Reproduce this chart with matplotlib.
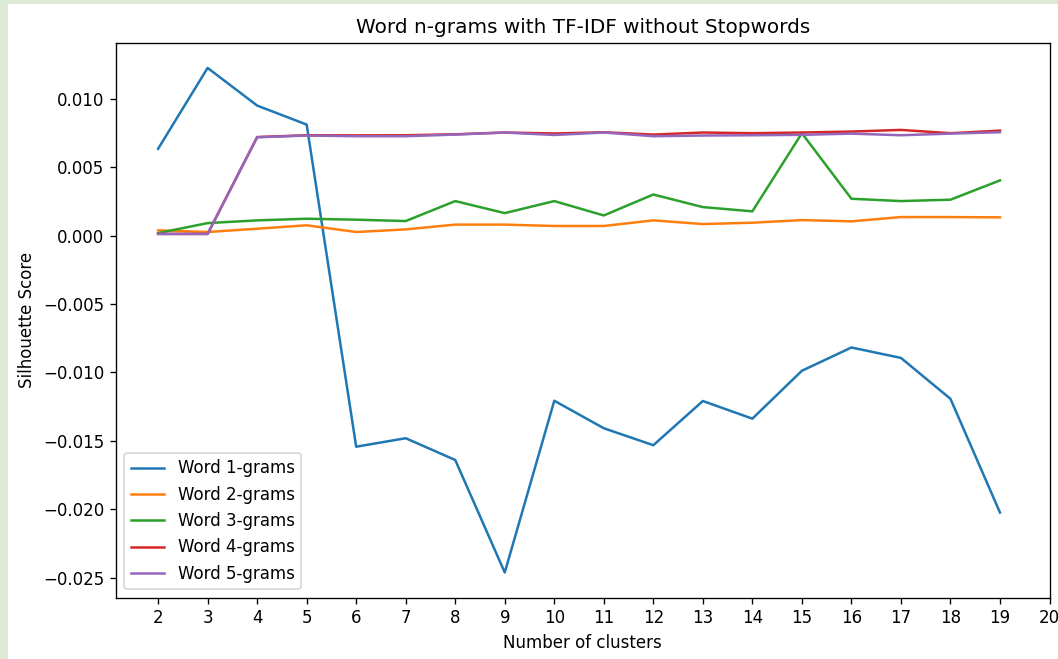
import numpy as np
import matplotlib
matplotlib.use("Agg")
import matplotlib.pyplot as plt
from matplotlib.patches import Rectangle

# Number of clusters
clusters = list(range(2, 20))

# Silhouette scores
word_1grams = [0.00634, 0.01225, 0.00950, 0.00811, -0.01543, -0.01481, -0.01640, -0.02462, -0.01207,
               -0.01408, -0.01532, -0.01209, -0.01338, -0.00988, -0.00818, -0.00894, -0.01193, -0.02024]
word_2grams = [0.00038, 0.00026, 0.00050, 0.00075, 0.00026, 0.00045, 0.00080, 0.00080, 0.00070,
               0.00070, 0.00111, 0.00084, 0.00094, 0.00113, 0.00104, 0.00135, 0.00135, 0.00133]
word_3grams = [0.00018, 0.00091, 0.00111, 0.00123, 0.00116, 0.00106, 0.00252, 0.00164, 0.00252,
               0.00147, 0.00300, 0.00208, 0.00177, 0.00748, 0.00269, 0.00252, 0.00262, 0.00403]
word_4grams = [0.00012, 0.00012, 0.00720, 0.00733, 0.00732, 0.00733, 0.00740, 0.00753, 0.00746,
               0.00755, 0.00738, 0.00753, 0.00748, 0.00753, 0.00760, 0.00772, 0.00748, 0.00767]
word_5grams = [0.00012, 0.00012, 0.00718, 0.00731, 0.00726, 0.00726, 0.00738, 0.00753, 0.00735,
               0.00753, 0.00726, 0.00731, 0.00733, 0.00736, 0.00745, 0.00733, 0.00745, 0.00755]

series = [word_1grams, word_2grams, word_3grams, word_4grams, word_5grams]
labels = ["Word 1-grams", "Word 2-grams", "Word 3-grams", "Word 4-grams", "Word 5-grams"]

W, H = 1058, 659
fig = plt.figure(figsize=(W / 120, H / 120), dpi=120)
fig.patch.set_facecolor("#dce9d4")
# white figure area inside the green page frame
fig.add_artist(Rectangle((8 / W, 0), 1, (H - 4) / H, transform=fig.transFigure,
                         facecolor="white", edgecolor="none", zorder=0))

ax = fig.add_axes([116 / W, 1 - 597.7 / H, (1049.5 - 116) / W, (597.7 - 42.7) / H])

for values, label in zip(series, labels):
    ax.plot(clusters, values, label=label)

ax.set_title("Word n-grams with TF-IDF without Stopwords")
ax.set_xlabel("Number of clusters")
ax.set_ylabel("Silhouette Score")
ax.set_xticks(range(2, 21))
ax.legend(loc="lower left")

fig.savefig("out.png", dpi=120, facecolor=fig.get_facecolor())
